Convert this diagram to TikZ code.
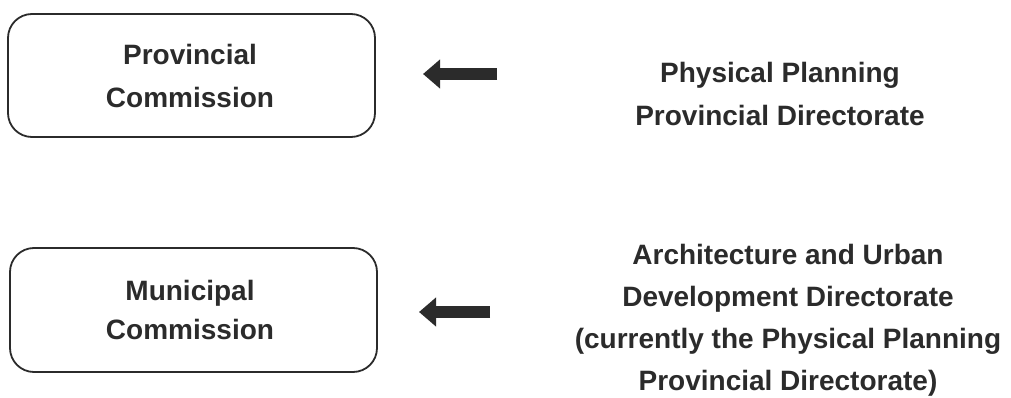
\documentclass[tikz,border=0pt]{standalone}
\usepackage{fontspec}
\setmainfont{Liberation Sans}
\usetikzlibrary{arrows.meta}
\definecolor{ink}{HTML}{2B2B2B}
\begin{document}
\begin{tikzpicture}[x=1pt,y=-1pt,
  commbox/.style={draw=ink,line width=1.8pt,rounded corners=24pt},
  label/.style={text=ink,font=\fontsize{28}{43}\selectfont\bfseries,align=center,inner sep=0pt},
  feed/.style={draw=ink,line width=12pt,-{Triangle[length=17pt,width=28pt]}}]
\useasboundingbox (0,0) rectangle (1011,398);
% commission boxes
\draw[commbox] (8,14) rectangle (375,137);
\draw[commbox] (10,248) rectangle (377,372);
\node[label] (prov) at (190,76) {Provincial\\Commission};
\node[label,font=\fontsize{28}{39}\selectfont\bfseries] (muni) at (190,310) {Municipal\\Commission};
% directorates
\node[label] (ppd) at (780,94) {Physical Planning\\Provincial Directorate};
\node[label,font=\fontsize{28}{42}\selectfont\bfseries] (aud) at (788,320) {Architecture and Urban\\Development Directorate\\(currently the Physical Planning\\Provincial Directorate)};
% arrows pointing to the commissions
\coordinate (a1s) at (497,74);
\coordinate (a1e) at (423,74);
\coordinate (a2s) at (490,312);
\coordinate (a2e) at (419,312);
\draw[feed] (a1s) -- (a1e);
\draw[feed] (a2s) -- (a2e);
\end{tikzpicture}
\end{document}
